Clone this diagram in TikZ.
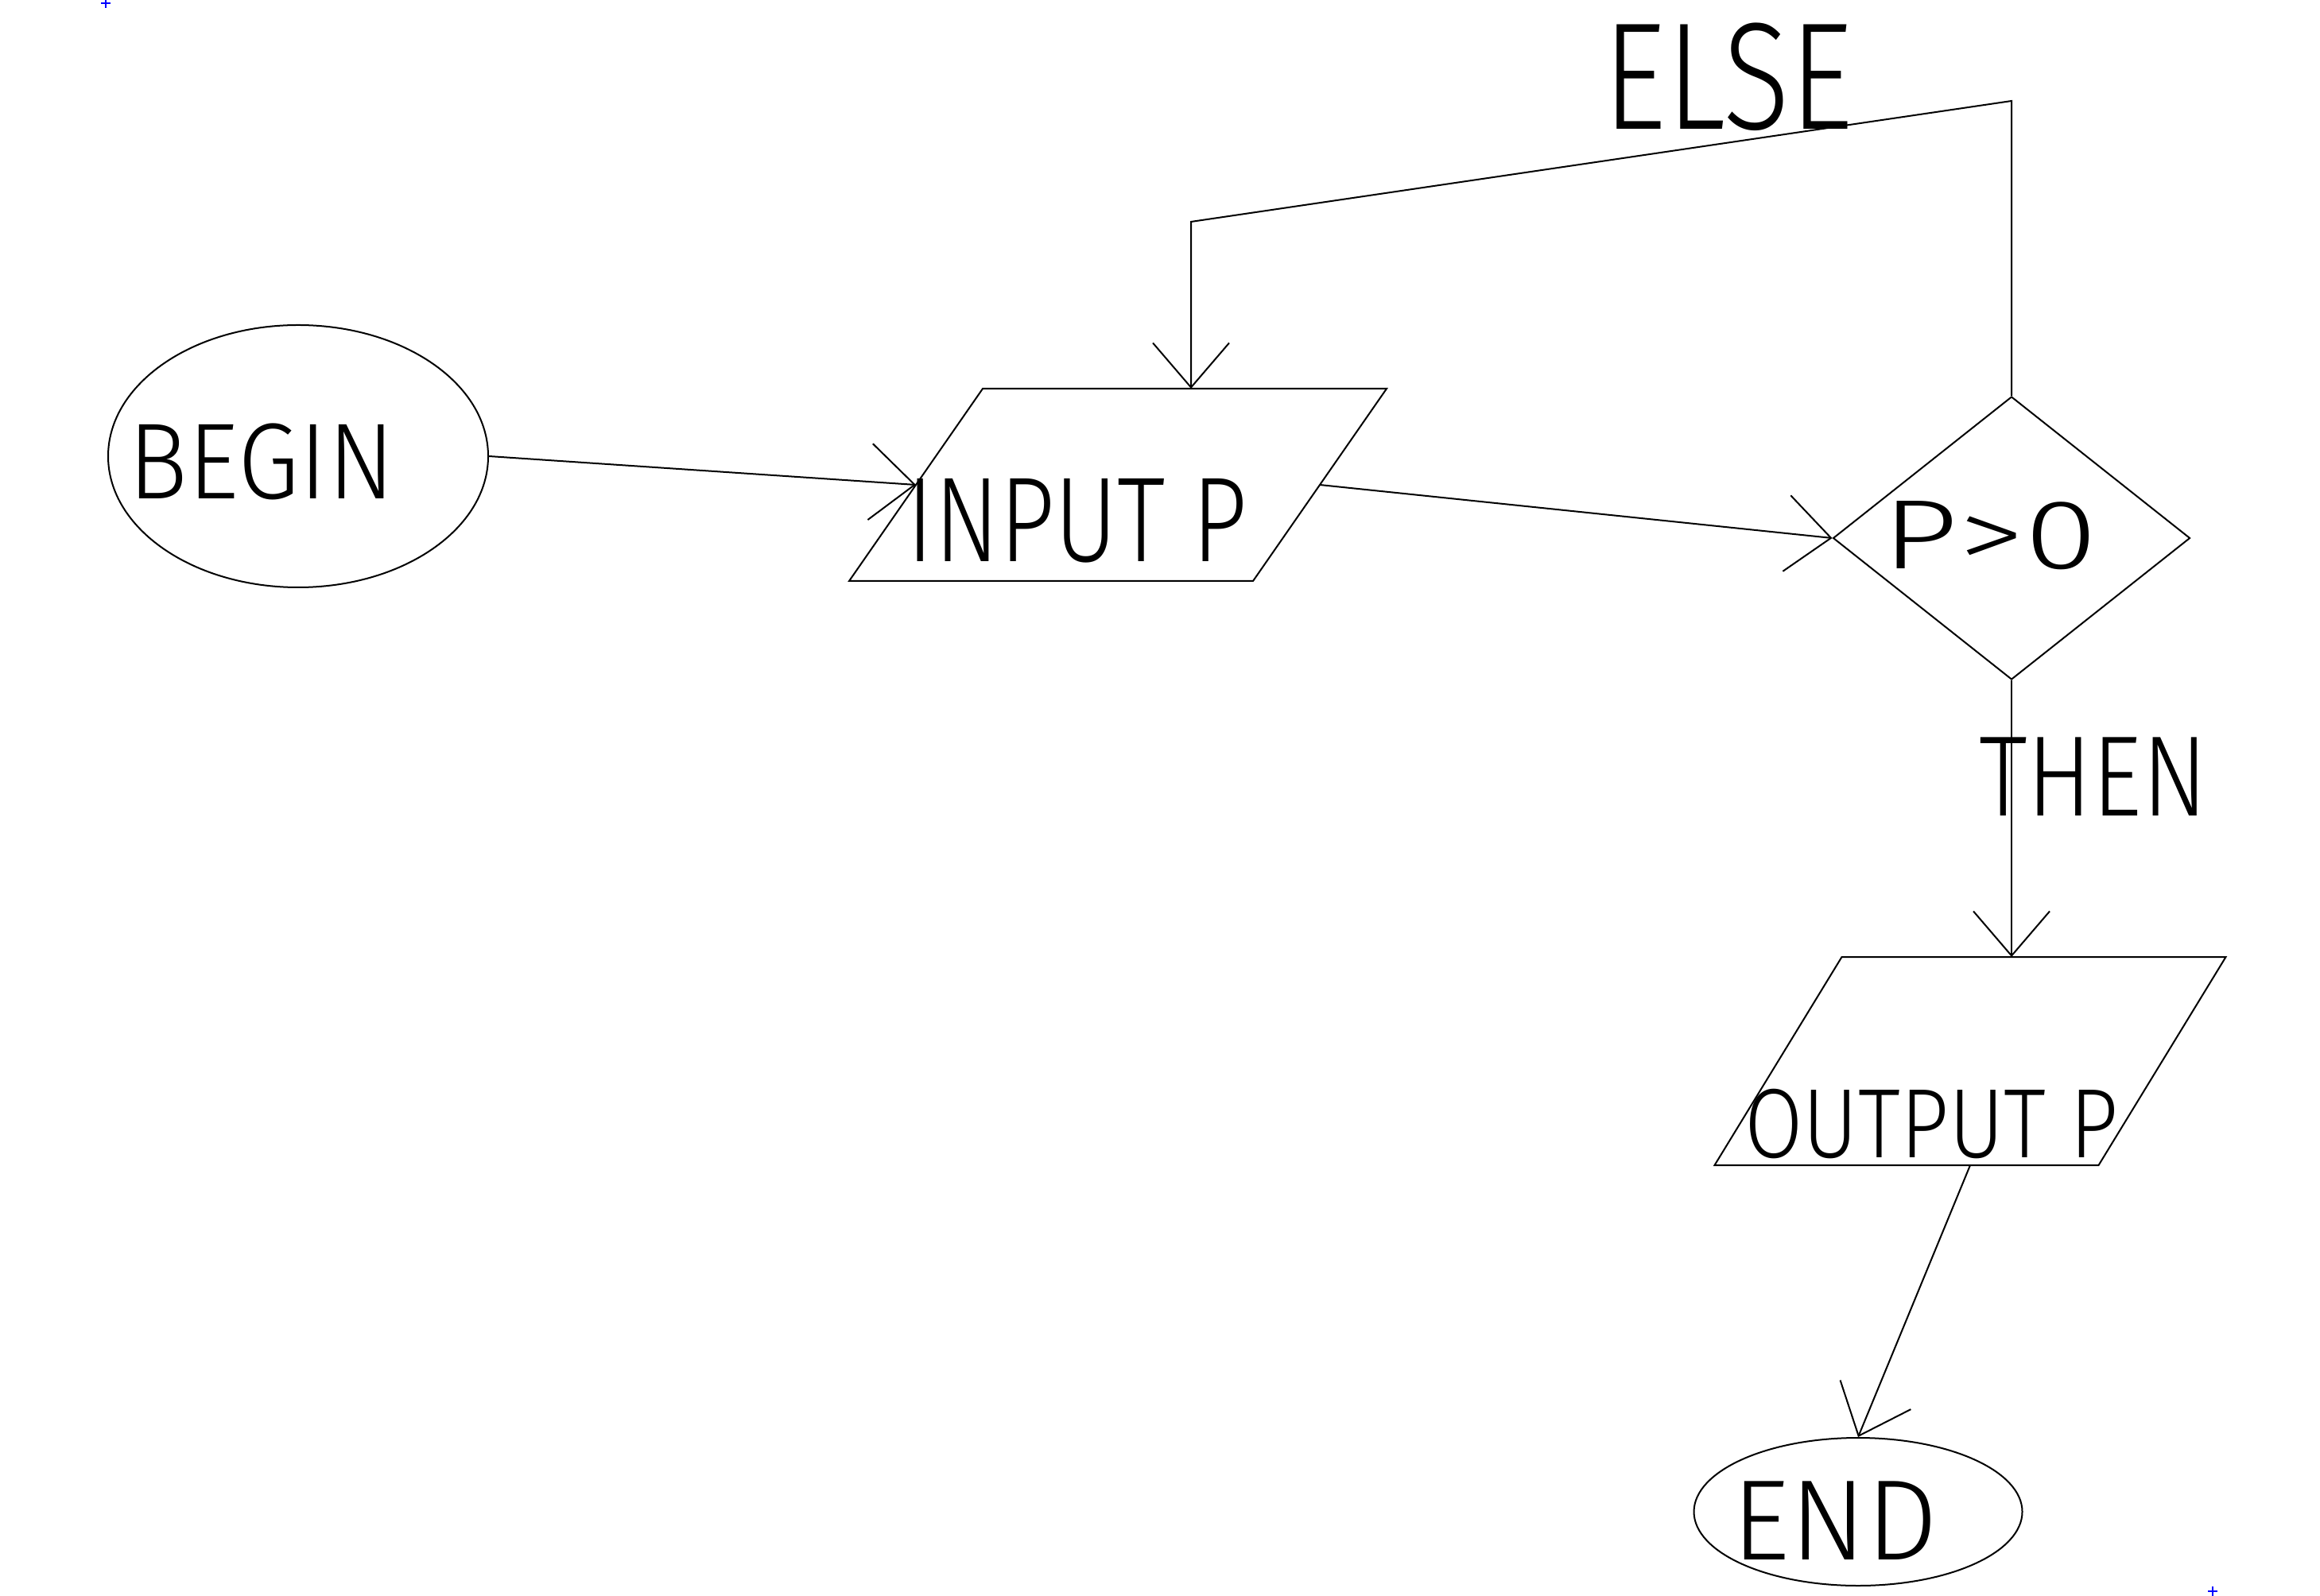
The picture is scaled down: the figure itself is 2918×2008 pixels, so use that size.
\documentclass[tikz,border=0pt]{standalone}
\usepackage{fontspec}
\setmainfont{Fira Sans}[UprightFont={* Light}]
\usetikzlibrary{shapes.geometric,arrows.meta}
% hand-lettered look for the labels: widen or narrow the glyphs
\newcommand\hand[2][0.9]{\scalebox{#1}[1]{#2}}
% slanted outline of an input/output box: the node is its mid-line rectangle
\newcommand\paraoutline[2]{%
  \draw ([xshift=#2]#1.north west) -- ([xshift=#2]#1.north east)
     -- ([xshift=-#2]#1.south east) -- ([xshift=-#2]#1.south west) -- cycle;}
\begin{document}
\begin{tikzpicture}[x=0.25pt,y=-0.25pt,
  line width=0.5pt,
  shapebox/.style={draw, inner sep=0pt},
  iobox/.style={inner sep=0pt, rectangle},
  flow/.style={-{Straight Barb[length=14pt,width=24pt,line width=0.5pt]}},
  lbl/.style={inner sep=0pt, font=\fontsize{#1}{#1}\selectfont},
]
\useasboundingbox (0,0) rectangle (2918,2008);

% shapes
\node[shapebox, ellipse, minimum width=119.5pt, minimum height=82.5pt] (begin) at (375,574) {};
\node[iobox, minimum width=126.5pt, minimum height=60pt] (input) at (1406,610) {};
\paraoutline{input}{21pt}
\node[shapebox, diamond, minimum width=112.25pt, minimum height=89pt] (test) at (2530,677) {};
\node[iobox, minimum width=120.25pt, minimum height=65pt] (output) at (2478,1335) {};
\paraoutline{output}{20pt}
\node[shapebox, ellipse, minimum width=103.25pt, minimum height=46.5pt] (end) at (2337,1902) {};

% texts
\node[lbl=34pt] (begin-text) at (329,581) {\hand[0.92]{BEGIN}};
\node[lbl=38pt] (input-text) at (1355,655) {\hand[0.8]{INPUT P}};
\node[lbl=31pt] (test-text) at (2503,674) {\hand[1.35]{P>0}};
\node[lbl=48pt] (else-text) at (2174,97) {\hand[0.81]{ELSE}};
\node[lbl=36pt] (then-text) at (2633,977) {\hand[0.85]{THEN}};
\node[lbl=31pt] (output-text) at (2429,1414) {\hand[0.86]{OUTPUT P}};
\node[lbl=36pt] (end-text) at (2308,1913) {\hand[0.99]{END}};

% connectors
\coordinate (elseright) at (2530,127);
\coordinate (elseleft) at (1498,279);
\draw[flow] (begin.east) -- (input.west);
\draw[flow] (input.east) -- (test.west);
\draw[flow] (test.north) -- (elseright) -- (elseleft) -- (elseleft |- input.north);
\draw[flow] (test.south) -- (test.south |- output.north);
\draw[flow] (output.south) -- (end.north);

% corner marks
\draw[blue, line width=0.6pt] (127,4) -- (139,4) (133,-2) -- (133,10);
\draw[blue, line width=0.6pt] (2777,2002) -- (2789,2002) (2783,1996) -- (2783,2008);
\end{tikzpicture}
\end{document}
